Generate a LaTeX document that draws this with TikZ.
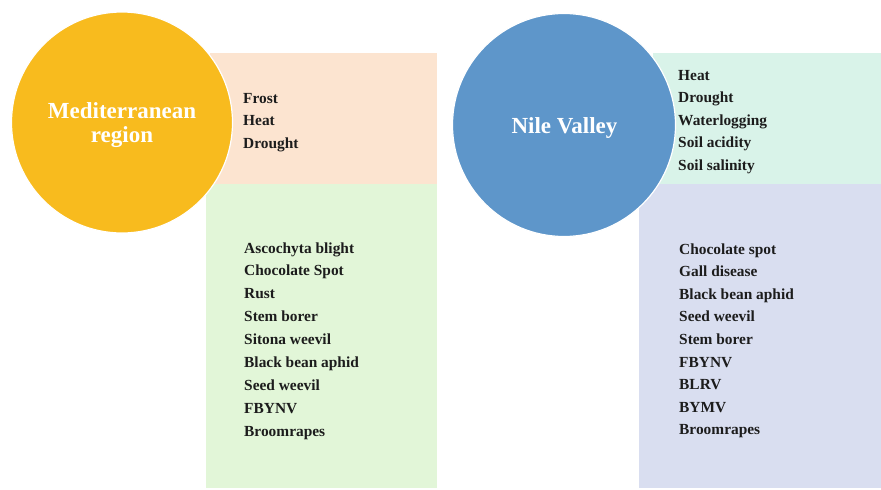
\documentclass[tikz,border=0pt]{standalone}
\usepackage{fontspec}
\setmainfont{Liberation Serif}
\definecolor{sunyellow}{HTML}{F8BB1E}
\definecolor{nileblue}{HTML}{5E96CA}
\definecolor{peachfill}{HTML}{FCE4D0}
\definecolor{greenfill}{HTML}{E2F6D8}
\definecolor{mintfill}{HTML}{D9F3E9}
\definecolor{lavfill}{HTML}{D9DEF0}
\definecolor{itemtext}{HTML}{1C1C1C}
\tikzset{
  panel/.style={fill=#1, draw=none, inner sep=0pt, outer sep=0pt, anchor=north west},
  region/.style={circle, fill=#1, draw=white, line width=1.2pt, inner sep=0pt},
  regionlabel/.style={text=white, anchor=base, inner sep=0pt,
    font=\fontsize{23}{24}\selectfont\bfseries},
  item/.style={anchor=base west, inner sep=0pt, text=itemtext,
    font=\fontsize{15.4}{18}\selectfont\bfseries}
}
\begin{document}
\begin{tikzpicture}[x=1pt,y=-1pt]
\useasboundingbox (0,0) rectangle (881,490);

% coloured panels behind the circles
\node[panel=peachfill, minimum width=227pt, minimum height=131pt] (mstress) at (210,53) {};
\node[panel=greenfill, minimum width=231pt, minimum height=304pt] (mbiotic) at (206,184) {};
\node[panel=mintfill, minimum width=228pt, minimum height=131pt] (nstress) at (653,53) {};
\node[panel=lavfill, minimum width=242pt, minimum height=304pt] (nbiotic) at (639,184) {};

% region circles and their titles
\node[region=sunyellow, minimum size=221pt] (med) at (122,122.5) {};
\node[regionlabel] (medlabel1) at (122,118) {Mediterranean};
\node[regionlabel] (medlabel2) at (122,142) {region};
\node[region=nileblue, minimum size=223pt] (nile) at (564,125) {};
\node[regionlabel] (nilelabel) at (564.5,133) {Nile Valley};

% abiotic stresses
\foreach \t [count=\i] in {Frost,Heat,Drought}
  \node[item] (ma\i) at (243,{103+22.6*(\i-1)}) {\t};
\foreach \t [count=\i] in {Heat,Drought,Waterlogging,Soil acidity,Soil salinity}
  \node[item] (na\i) at (678,{80+22.6*(\i-1)}) {\t};

% biotic stresses
\foreach \t [count=\i] in {Ascochyta blight,Chocolate Spot,Rust,Stem borer,Sitona weevil,
    Black bean aphid,Seed weevil,FBYNV,Broomrapes}
  \node[item] (mb\i) at (244,{253+22.9*(\i-1)}) {\t};
\foreach \t [count=\i] in {Chocolate spot,Gall disease,Black bean aphid,Seed weevil,
    Stem borer,FBYNV,BLRV,BYMV,Broomrapes}
  \node[item] (nb\i) at (679,{254+22.6*(\i-1)}) {\t};
\end{tikzpicture}
\end{document}
